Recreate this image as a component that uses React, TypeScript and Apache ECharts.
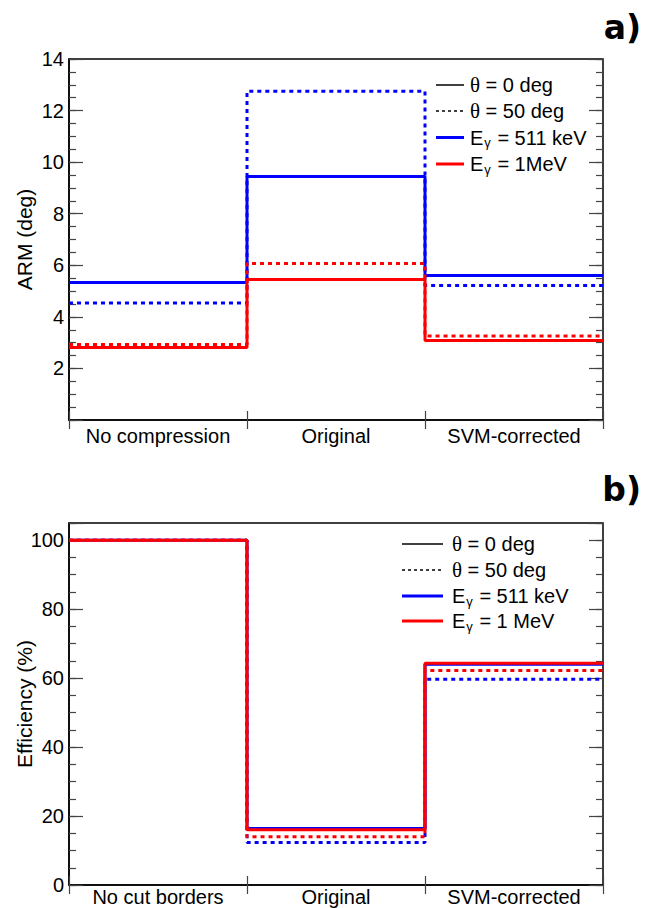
import React, { useEffect, useRef } from 'react';
import * as echarts from 'echarts';

const armCategories = ['No compression', 'Original', 'SVM-corrected'];
const effCategories = ['No cut borders', 'Original', 'SVM-corrected'];

// ARM (deg)
const armBlue0 = [5.33, 9.44, 5.6];
const armBlue50 = [4.54, 12.75, 5.22];
const armRed0 = [2.81, 5.45, 3.08];
const armRed50 = [2.93, 6.07, 3.26];

// Efficiency (%)
const effBlue0 = [100, 16.4, 64.0];
const effBlue50 = [100, 12.3, 59.7];
const effRed0 = [100, 16.0, 64.3];
const effRed50 = [100, 14.0, 62.2];

const legendTop = ['θ = 0 deg', 'θ = 50 deg', 'Eγ = 511 keV', 'Eγ = 1MeV'];
const legendBottom = ['θ = 0 deg', 'θ = 50 deg', 'Eγ = 511 keV', 'Eγ = 1 MeV'];

const FONT = 'Liberation Sans, Arial, Helvetica, sans-serif';
const SERIF = 'Liberation Serif, serif';
const BOLD = 'DejaVu Sans, sans-serif';
const BLUE = '#0000ff';
const RED = '#ff0000';
const TICK = '#444';

const steps = (vals: number[]) => vals.flatMap((v, i) => [[i, v], [i + 1, v]]);

function xAxes(g: number, cats: string[], labelMargin: number) {
  return [
    { gridIndex: g, type: 'value', min: 0, max: 3, show: false },
    {
      gridIndex: g, type: 'category', data: cats, position: 'bottom', boundaryGap: true,
      axisLine: { show: true, lineStyle: { color: '#000', width: 1.5 } },
      axisTick: { show: true, inside: true, length: 9, interval: 0, lineStyle: { color: TICK, width: 1.2 } },
      axisLabel: { interval: 0, fontSize: 20, color: '#000', fontFamily: FONT, margin: labelMargin, hideOverlap: false },
      splitLine: { show: false },
    },
    {
      gridIndex: g, type: 'category', data: cats, position: 'top', boundaryGap: true,
      axisLine: { show: false },
      axisTick: { show: true, inside: true, length: 9, interval: 0, lineStyle: { color: TICK, width: 1.2 } },
      axisLabel: { show: false },
      splitLine: { show: false },
    },
  ];
}

function yAxes(g: number, min: number, max: number, major: number, minor: number, name: string, nameGap: number, fmt: (v: number) => string) {
  const out: any[] = [];
  for (const pos of ['left', 'right']) {
    out.push({
      gridIndex: g, type: 'value', min, max, interval: major, position: pos,
      name: pos === 'left' ? name : '', nameLocation: 'middle', nameGap, nameMoveOverlap: false,
      nameTextStyle: { fontSize: 21, color: '#000', fontFamily: FONT },
      axisLine: { show: pos === 'left', lineStyle: { color: '#000', width: 1.5 } },
      axisTick: { show: true, inside: true, length: 14, lineStyle: { color: TICK, width: 1.2 } },
      axisLabel: { show: pos === 'left', fontSize: 20, color: '#000', fontFamily: FONT, margin: 5, formatter: fmt },
      splitLine: { show: false },
    });
    out.push({
      gridIndex: g, type: 'value', min, max, interval: minor, position: pos,
      axisLine: { show: false },
      axisTick: { show: true, inside: true, length: 7, lineStyle: { color: TICK, width: 1.2 } },
      axisLabel: { show: false },
      splitLine: { show: false },
    });
  }
  return out;
}

function lineSeries(xi: number, yi: number, vals: number[], color: string, dotted: boolean, z: number) {
  return {
    type: 'line', xAxisIndex: xi, yAxisIndex: yi, data: steps(vals),
    showSymbol: false, symbol: 'none', silent: true, z,
    lineStyle: { color, width: 3, type: dotted ? [4, 4] : 'solid' },
  };
}

function richLabel(s: string) {
  if (s.startsWith('Eγ')) return '{m|E}{s|γ}{m|' + s.slice(2) + '}';
  if (s.startsWith('θ')) return '{t|θ}{m|' + s.slice(1) + '}';
  return '{m|' + s + '}';
}

function legend(labels: string[], x1: number, x2: number, tx: number, rows: number[]) {
  const styles = [
    { stroke: '#000', lineWidth: 1.5 },
    { stroke: '#000', lineWidth: 1.5, lineDash: [3, 3] },
    { stroke: BLUE, lineWidth: 3 },
    { stroke: RED, lineWidth: 3 },
  ];
  const els: any[] = [];
  labels.forEach((lab, i) => {
    els.push({ type: 'line', shape: { x1, y1: rows[i], x2, y2: rows[i] }, style: styles[i] });
    els.push({
      type: 'text', x: tx, y: rows[i],
      style: {
        text: richLabel(lab), verticalAlign: 'middle', align: 'left',
        rich: {
          m: { fontSize: 20, fontFamily: FONT, fill: '#000' },
          t: { fontSize: 21, fontFamily: SERIF, fill: '#000' },
          s: { fontSize: 13, fontFamily: FONT, fill: '#000', padding: [10, 1, 0, 1], verticalAlign: 'bottom' },
        },
      },
    });
  });
  return els;
}

export default function App() {
  const ref = useRef<HTMLDivElement>(null);
  useEffect(() => {
    const chart = echarts.init(ref.current!, undefined, { renderer: 'svg' });
    const gridBase = { show: true, borderColor: '#000', borderWidth: 1.5, backgroundColor: 'transparent', containLabel: false, outerBoundsMode: 'none' };
    const option: any = {
      animation: false,
      backgroundColor: '#fff',
      grid: [
        { ...gridBase, left: 69, top: 59, width: 534, height: 361 },
        { ...gridBase, left: 69, top: 523, width: 534, height: 362 },
      ],
      xAxis: [...xAxes(0, armCategories, 6), ...xAxes(1, effCategories, 2)],
      yAxis: [
        ...yAxes(0, 0, 14, 2, 0.5, 'ARM (deg)', 34, (v: number) => (v === 0 ? '' : String(v))),
        ...yAxes(1, 0, 105, 20, 5, 'Efficiency (%)', 34, (v: number) => (v > 100 ? '' : String(v))),
      ],
      series: [
        lineSeries(0, 0, armBlue50, BLUE, true, 2),
        lineSeries(0, 0, armBlue0, BLUE, false, 3),
        lineSeries(0, 0, armRed50, RED, true, 4),
        lineSeries(0, 0, armRed0, RED, false, 5),
        lineSeries(3, 4, effBlue50, BLUE, true, 2),
        lineSeries(3, 4, effBlue0, BLUE, false, 3),
        lineSeries(3, 4, effRed50, RED, true, 4),
        lineSeries(3, 4, effRed0, RED, false, 5),
      ],
      graphic: [
        ...legend(legendTop, 436, 464, 470, [85, 111, 137.5, 164]),
        ...legend(legendBottom, 402, 443, 452, [544, 570, 596, 621]),
        { type: 'text', x: 641, y: 27, style: { text: 'a)', fontSize: 33, fontWeight: 'bold', fontFamily: BOLD, fill: '#000', align: 'right', verticalAlign: 'middle' } },
        { type: 'text', x: 641, y: 489, style: { text: 'b)', fontSize: 33, fontWeight: 'bold', fontFamily: BOLD, fill: '#000', align: 'right', verticalAlign: 'middle' } },
      ],
    };
    chart.setOption(option);
    return () => chart.dispose();
  }, []);
  return <div ref={ref} style={{ position: 'absolute', left: 0, top: 0, width: 645, height: 908 }} />;
}
